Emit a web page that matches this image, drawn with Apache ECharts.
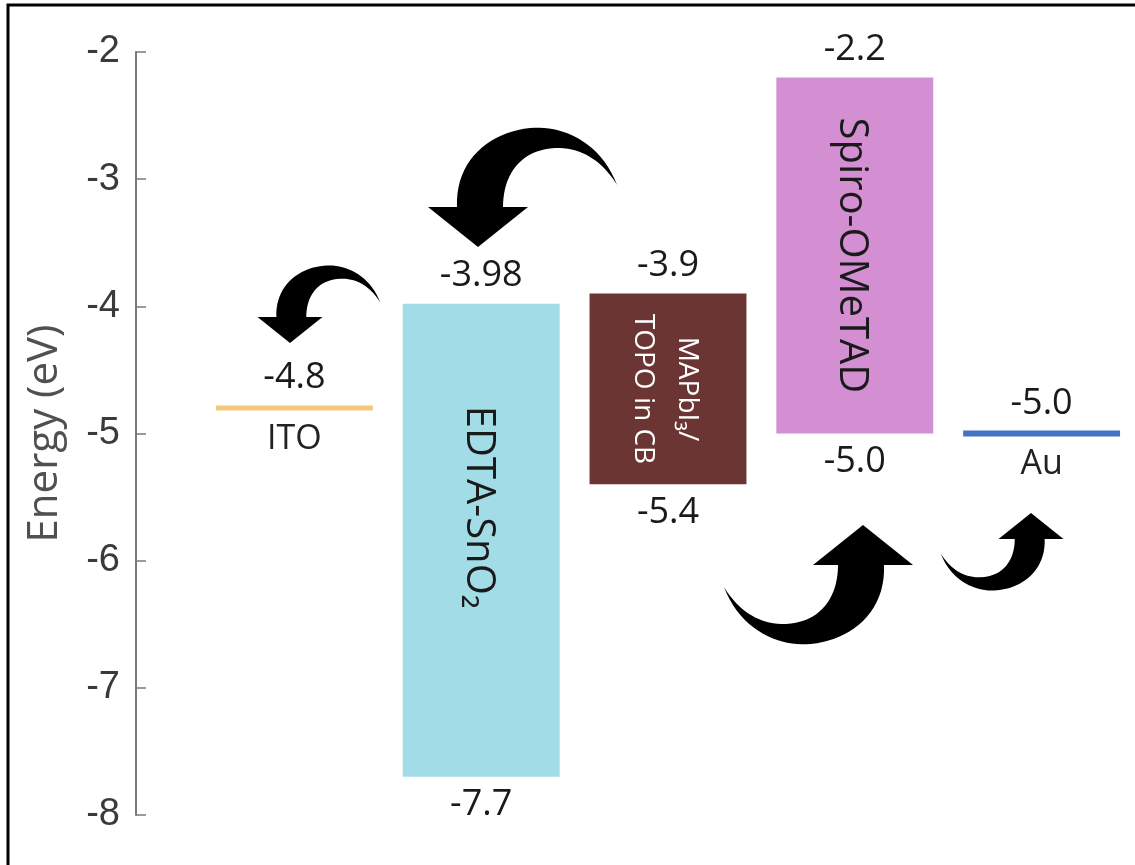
<!DOCTYPE html>
<html>
<head>
<meta charset="utf-8">
<title>Energy level diagram</title>
<script src="https://cdn.jsdelivr.net/npm/echarts@6/dist/echarts.min.js"></script>
<style>
  html, body { margin: 0; padding: 0; background: #ffffff; }
  #chart { width: 1135px; height: 865px; }
</style>
</head>
<body>
<div id="chart"></div>
<script>
// Layers of the device stack, left to right
const categories = ['ITO', 'EDTA-SnO₂', 'MAPbI₃/\nTOPO in CB', 'Spiro-OMeTAD', 'Au'];
// Upper (LUMO / work function) and lower (HOMO) energy levels, eV
const upperLevels = [-4.8, -3.98, -3.9, -2.2, -5.0];
const lowerLevels = [-4.8, -7.7, -5.4, -5.0, -5.0];
// Energy axis ticks
const energyTicks = [-8, -7, -6, -5, -4, -3, -2];

// Styling per layer
const layerColors = ['#f2c97c', '#a2dce6', '#6b3533', '#d48ed2', '#4472c4'];
const nameColors = ['#222222', '#1a1a1a', '#ffffff', '#1a1a1a', '#222222'];
const levelLineWidth = [5, 6, 0, 0, 6];
const nameAnchor = [0.5, 0.43, 0.5, 0.5, 0.5];

const LABEL_FONT = '"Open Sans", "DejaVu Sans", sans-serif';

function fmt(v) {
  return (Math.round(v * 10) / 10 === v) ? v.toFixed(1) : v.toFixed(2);
}

function valueText(txt, x, y, vAlign) {
  return {
    type: 'text', x: x, y: y,
    style: { text: txt, fill: '#1a1a1a', font: '36px ' + LABEL_FONT, align: 'center', verticalAlign: vAlign }
  };
}

function renderItem(params, api) {
  const i = params.dataIndex;
  const hi = api.value(1);
  const lo = api.value(2);
  const top = api.coord([api.value(0), hi]);
  const bot = api.coord([api.value(0), lo]);
  const bw = api.size([1, 0])[0] * 0.84;
  const cx = top[0];
  const children = [];
  if (hi === lo) {
    // Electrode: a single work-function level
    const lw = levelLineWidth[i];
    children.push({
      type: 'rect',
      shape: { x: cx - bw / 2, y: top[1] - lw / 2, width: bw, height: lw },
      style: { fill: layerColors[i] }
    });
    children.push(valueText(fmt(hi), cx, top[1] - 12, 'bottom'));
    children.push({
      type: 'text', x: cx, y: top[1] + 14,
      style: { text: categories[i], fill: nameColors[i], font: '34px ' + LABEL_FONT, align: 'center', verticalAlign: 'top' }
    });
  } else {
    // Semiconductor layer: band between the two levels
    const h = bot[1] - top[1];
    children.push({
      type: 'rect',
      shape: { x: cx - bw / 2, y: top[1], width: bw, height: h },
      style: { fill: layerColors[i] }
    });
    children.push(valueText(fmt(hi), cx, top[1] - 10, 'bottom'));
    children.push(valueText(fmt(lo), cx, bot[1] + 10, 'top'));
    const multi = categories[i].indexOf('\n') >= 0;
    children.push({
      type: 'text', x: cx - 3, y: top[1] + h * nameAnchor[i], rotation: -Math.PI / 2,
      style: {
        text: categories[i], fill: nameColors[i],
        font: (multi ? '28px ' : '40px ') + LABEL_FONT,
        lineHeight: multi ? 44 : 48,
        align: 'center', verticalAlign: 'middle'
      }
    });
  }
  return { type: 'group', children: children };
}

// Curved arrow outline, tip at the origin, pointing down
const arrowOutline = [
  ['M', 139, -62],
  ['C', 122, -107, 82, -122, 52, -119],
  ['C', 12, -115, -23, -87, -21, -40],
  ['L', -50, -40],
  ['L', 0, 0],
  ['L', 50, -40],
  ['L', 25, -40],
  ['C', 25, -72, 42, -97, 77, -99],
  ['C', 107, -100, 127, -82, 139, -62]
];

function arrowPolygon(tipX, tipY, s, flip) {
  const k = flip ? -s : s;
  const pts = [];
  const map = (x, y) => [tipX + k * x, tipY + k * y];
  let cur = [0, 0];
  arrowOutline.forEach(seg => {
    if (seg[0] === 'M' || seg[0] === 'L') {
      cur = [seg[1], seg[2]];
      pts.push(map(cur[0], cur[1]));
    } else {
      const [x0, y0] = cur;
      const [, x1, y1, x2, y2, x3, y3] = seg;
      for (let n = 1; n <= 20; n++) {
        const t = n / 20, u = 1 - t;
        const x = u * u * u * x0 + 3 * u * u * t * x1 + 3 * u * t * t * x2 + t * t * t * x3;
        const y = u * u * u * y0 + 3 * u * u * t * y1 + 3 * u * t * t * y2 + t * t * t * y3;
        pts.push(map(x, y));
      }
      cur = [x3, y3];
    }
  });
  return { type: 'polygon', z: 100, shape: { points: pts }, style: { fill: '#000000' } };
}

const chart = echarts.init(document.getElementById('chart'), null, { renderer: 'canvas' });

chart.setOption({
  animation: false,
  backgroundColor: '#ffffff',
  grid: { left: 201, right: -1, top: 52, bottom: 50 },
  xAxis: { type: 'category', data: categories, show: false },
  yAxis: {
    type: 'value',
    min: energyTicks[0],
    max: energyTicks[energyTicks.length - 1],
    interval: 1,
    offset: 65,
    name: 'Energy (eV)',
    nameLocation: 'middle',
    nameRotate: 90,
    nameGap: 70,
    nameTextStyle: { fontSize: 42, fontFamily: 'Open Sans', color: '#505050' },
    axisLine: { show: true, lineStyle: { color: '#7a7a7a', width: 2 } },
    axisTick: { show: true, inside: true, length: 10, lineStyle: { color: '#7a7a7a', width: 1.5 } },
    axisLabel: { margin: 16, fontSize: 38, fontFamily: 'Liberation Sans', color: '#3a3a3a' },
    splitLine: { show: false }
  },
  series: [{
    type: 'custom',
    renderItem: renderItem,
    clip: false,
    encode: { x: 0, y: [1, 2] },
    data: categories.map((c, i) => [i, upperLevels[i], lowerLevels[i]])
  }],
  graphic: [
    { type: 'rect', z: 100, shape: { x: 8, y: 5, width: 1140, height: 870 }, style: { fill: 'none', stroke: '#000000', lineWidth: 3 } },
    arrowPolygon(290, 343, 0.65, false),
    arrowPolygon(478, 247, 1, false),
    arrowPolygon(863, 525, 1, true),
    arrowPolygon(1031, 513, 0.65, true)
  ]
});
</script>
</body>
</html>
